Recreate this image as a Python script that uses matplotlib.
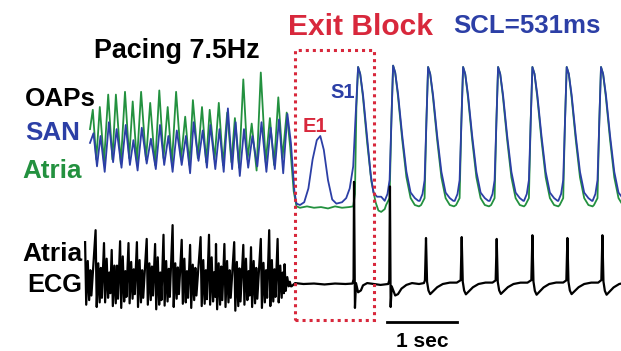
import matplotlib.pyplot as plt
import numpy as np
from matplotlib.patches import Rectangle

plt.rcParams['font.family'] = ['Liberation Sans', 'DejaVu Sans']

GREEN = '#23913f'
BLUE = '#2c3fa6'
RED = '#d8283c'

# ---------------- optical APs (time in s, amplitude normalised) ----------------
# pacing at 7.5 Hz: peaks and troughs of the atrial (green) trace
atria_pk_t = [0.04, 0.14, 0.26, 0.37, 0.50, 0.61, 0.73, 0.86, 0.99, 1.11, 1.23, 1.36,
              1.47, 1.60, 1.71, 1.84, 1.96, 2.07, 2.19, 2.31, 2.44, 2.57, 2.69, 2.81]
atria_pk_v = [0.69, 0.71, 0.80, 0.80, 0.82, 0.75, 0.82, 0.74, 0.83, 0.71, 0.82, 0.64,
              0.76, 0.71, 0.69, 0.74, 0.67, 0.63, 0.91, 0.59, 0.96, 0.63, 0.78, 0.67]
atria_tr_t = [0.00, 0.09, 0.20, 0.32, 0.44, 0.56, 0.67, 0.80, 0.93, 1.05, 1.17, 1.30,
              1.42, 1.54, 1.66, 1.78, 1.90, 2.02, 2.13, 2.25, 2.38, 2.51, 2.63, 2.75]
atria_tr_v = [0.55, 0.33, 0.31, 0.33, 0.30, 0.34, 0.31, 0.33, 0.29, 0.34, 0.30, 0.33,
              0.29, 0.34, 0.31, 0.33, 0.29, 0.31, 0.27, 0.33, 0.25, 0.31, 0.29, 0.34]

# pacing: SAN (blue) trace
san_pk_t = [0.05, 0.15, 0.27, 0.38, 0.51, 0.62, 0.74, 0.87, 1.00, 1.12, 1.24, 1.37,
            1.48, 1.61, 1.72, 1.85, 1.97, 2.08, 2.20, 2.32, 2.45, 2.58, 2.70, 2.82]
san_pk_v = [0.52, 0.50, 0.60, 0.55, 0.58, 0.47, 0.56, 0.48, 0.58, 0.50, 0.54, 0.50,
            0.60, 0.54, 0.58, 0.55, 0.70, 0.60, 0.55, 0.50, 0.60, 0.56, 0.62, 0.66]
san_tr_t = [0.00, 0.10, 0.21, 0.33, 0.45, 0.57, 0.68, 0.81, 0.94, 1.06, 1.18, 1.31,
            1.43, 1.55, 1.67, 1.79, 1.91, 2.03, 2.14, 2.26, 2.39, 2.52, 2.64, 2.76]
san_tr_v = [0.45, 0.28, 0.24, 0.31, 0.27, 0.29, 0.25, 0.30, 0.26, 0.29, 0.24, 0.29,
            0.23, 0.32, 0.27, 0.26, 0.24, 0.26, 0.21, 0.27, 0.28, 0.24, 0.26, 0.23]

# exit block: drop, E1 (SAN only) and S1
atria_blk_t = [2.86, 2.91, 2.95, 3.00, 3.10, 3.20, 3.30, 3.40, 3.50, 3.60, 3.70, 3.76,
               3.785, 3.805, 3.83, 3.86, 3.90, 3.96, 4.02, 4.08, 4.12, 4.16, 4.21]
atria_blk_v = [0.42, 0.10, -0.01, -0.02, -0.01, -0.02, -0.015, -0.025, -0.01, -0.02, -0.015, -0.01,
               0.08, 0.70, 1.00, 0.95, 0.78, 0.45, 0.17, 0.02, -0.04, -0.05, -0.03]
san_blk_t = [2.87, 2.92, 2.95, 3.00, 3.06, 3.12, 3.18, 3.24, 3.29, 3.34, 3.40, 3.46, 3.52,
             3.60, 3.66, 3.71, 3.76, 3.79, 3.83, 3.86, 3.90, 3.96, 4.01, 4.05, 4.10, 4.16]
san_blk_v = [0.45, 0.10, 0.01, 0.00, 0.02, 0.12, 0.33, 0.47, 0.50, 0.40, 0.18, 0.04, 0.01,
             0.02, 0.05, 0.12, 0.28, 0.60, 1.00, 0.95, 0.80, 0.48, 0.22, 0.09, 0.06, 0.06]

# sinus rhythm after S1 (SCL = 531 ms): one digitised beat per channel
beat_t = [4.33, 4.83, 5.33, 5.83, 6.32, 6.81, 7.30]
beat_amp = [1.01, 1.00, 1.00, 1.00, 1.00, 1.00, 1.00]
atria_ap_dt = [-0.10, -0.05, -0.025, 0.0, 0.03, 0.07, 0.13, 0.19, 0.25, 0.31, 0.37]
atria_ap_v = [0.00, 0.05, 0.60, 1.00, 0.95, 0.78, 0.47, 0.20, 0.05, 0.00, -0.01]
san_ap_dt = [-0.12, -0.08, -0.05, -0.025, 0.0, 0.03, 0.07, 0.13, 0.19, 0.25, 0.31, 0.36]
san_ap_v = [0.03, 0.08, 0.18, 0.60, 1.00, 0.95, 0.80, 0.50, 0.24, 0.09, 0.05, 0.03]

# ---------------- atrial ECG ----------------
# pacing: per-cycle spike top / bottom and the following deflections
ecg_sp_t = [-0.07, 0.08, 0.20, 0.31, 0.43, 0.55, 0.67, 0.81, 0.93, 1.05, 1.18, 1.31,
            1.43, 1.58, 1.70, 1.80, 1.92, 2.06, 2.19, 2.30, 2.44, 2.56, 2.68, 2.78]
ecg_sp_top = [0.91, 1.17, 0.89, 0.74, 0.93, 0.89, 0.91, 0.98, 0.87, 1.07, 1.28, 0.96,
              0.85, 1.02, 1.07, 0.87, 0.87, 0.91, 0.85, 0.80, 0.98, 1.17, 0.98, 0.43]
ecg_sp_bot = [-0.45, -0.50, -0.40, -0.48, -0.52, -0.42, -0.50, -0.45, -0.55, -0.47, -0.50, -0.43,
              -0.52, -0.48, -0.45, -0.55, -0.50, -0.58, -0.45, -0.50, -0.52, -0.48, -0.40, -0.15]
ecg_hi1 = [0.50, 0.45, 0.55, 0.40, 0.60, 0.48, 0.52, 0.45, 0.58, 0.50, 0.45, 0.55,
           0.42, 0.52, 0.58, 0.45, 0.50, 0.48, 0.55, 0.50, 0.46, 0.52, 0.40, 0.15]
ecg_lo1 = [-0.35, -0.40, -0.30, -0.42, -0.38, -0.32, -0.40, -0.35, -0.45, -0.38, -0.32, -0.40,
           -0.35, -0.43, -0.38, -0.45, -0.40, -0.48, -0.35, -0.42, -0.40, -0.38, -0.30, -0.05]
ecg_hi2 = [0.30, 0.35, 0.25, 0.40, 0.28, 0.32, 0.30, 0.38, 0.25, 0.33, 0.36, 0.28,
           0.35, 0.30, 0.26, 0.38, 0.30, 0.34, 0.28, 0.35, 0.30, 0.32, 0.25, 0.05]
ecg_lo2 = [-0.25, -0.30, -0.20, -0.32, -0.28, -0.22, -0.30, -0.25, -0.35, -0.28, -0.22, -0.30,
           -0.25, -0.33, -0.28, -0.35, -0.30, -0.38, -0.25, -0.32, -0.30, -0.28, -0.20, -0.05]

# block period with the two large complexes
ecg_blk_t = [2.88, 2.93, 3.05, 3.20, 3.35, 3.50, 3.65, 3.75, 3.765, 3.772, 3.785, 3.80, 3.83,
             3.87, 3.90, 3.96, 4.05, 4.15, 4.26, 4.275, 4.285, 4.295, 4.31, 4.36, 4.40, 4.45,
             4.52, 4.60, 4.70, 4.77]
ecg_blk_v = [-0.05, 0.02, 0.0, 0.01, -0.01, 0.01, 0.0, 0.01, 0.10, 2.22, -0.52, 0.02, -0.18,
             -0.14, -0.03, 0.02, 0.0, -0.02, 0.0, 0.08, 2.12, -0.50, -0.05, -0.25, -0.22, -0.10,
             -0.02, 0.02, 0.0, 0.02]

# sinus complexes
qrs_t = [4.80, 5.31, 5.81, 6.32, 6.82, 7.32]
qrs_amp = [1.00, 1.02, 0.98, 1.06, 1.00, 1.06]
qrs_dt = [-0.015, 0.0, 0.015, 0.035, 0.06, 0.10, 0.16, 0.24, 0.34, 0.44]
qrs_v = [0.08, 1.0, 0.05, -0.14, -0.22, -0.16, -0.07, 0.0, 0.03, 0.03]


def join(*parts):
    t = np.concatenate([np.asarray(p[0], float) for p in parts])
    v = np.concatenate([np.asarray(p[1], float) for p in parts])
    o = np.argsort(t, kind='stable')
    return t[o], v[o]


def beats(times, amps, dt, v):
    tt = np.concatenate([tp + np.asarray(dt) for tp in times])
    vv = np.concatenate([a * np.asarray(v) for a in amps])
    return tt, vv


atria = join((atria_pk_t, atria_pk_v), (atria_tr_t, atria_tr_v), (atria_blk_t, atria_blk_v),
             beats(beat_t, beat_amp, atria_ap_dt, atria_ap_v))
san = join((san_pk_t, san_pk_v), (san_tr_t, san_tr_v), (san_blk_t, san_blk_v),
           beats(beat_t, beat_amp, san_ap_dt, san_ap_v))

cyc_dt = [0.0, 0.016, 0.038, 0.058, 0.075, 0.09]
pace_t = np.concatenate([ts + np.asarray(cyc_dt) for ts in ecg_sp_t])
pace_v = np.column_stack([ecg_sp_top, ecg_sp_bot, ecg_hi1, ecg_lo1, ecg_hi2, ecg_lo2]).ravel()
ecg = join((pace_t, pace_v), (ecg_blk_t, ecg_blk_v), beats(qrs_t, qrs_amp, qrs_dt, qrs_v))

# ---------------- figure ----------------
W, H = 621, 351
fig = plt.figure(figsize=(W / 100, H / 100), dpi=100)
fig.patch.set_facecolor('white')

xlim = (-90 / 70, (W - 90) / 70)

ax_oap = fig.add_axes([0, (H - 230) / H, 1, 190 / H])
ax_oap.set_xlim(xlim)
ax_oap.set_ylim(-25 / 138, 165 / 138)
ax_oap.plot(atria[0], atria[1], color=GREEN, lw=1.3)
ax_oap.plot(san[0], san[1], color=BLUE, lw=1.3)
ax_oap.axis('off')

ax_ecg = fig.add_axes([0, (H - 345) / H, 1, 170 / H])
ax_ecg.set_xlim(xlim)
ax_ecg.set_ylim(-61 / 46, 109 / 46)
ax_ecg.plot(ecg[0], ecg[1], color='black', lw=1.6)
ax_ecg.axis('off')

# scale bar
ax_ecg.plot([4.24, 5.24], [-0.83, -0.83], color='black', lw=2, clip_on=False)
ax_ecg.text(4.74, -1.37, '1 sec', ha='center', va='baseline', fontsize=15,
            fontweight='bold')

# exit block box
fig.add_artist(Rectangle((295 / W, (H - 320) / H), 79 / W, 270 / H, transform=fig.transFigure,
                         fill=False, edgecolor=RED, lw=2.2, linestyle=(0, (1, 1.3))))


def label(x, y, s, size, color='black'):
    fig.text(x / W, 1 - y / H, s, ha='left', va='baseline', fontsize=size,
             fontweight='bold', color=color)


label(288, 35, 'Exit Block', 21.6, RED)
label(453, 33, 'SCL=531ms', 18.6, BLUE)
label(94, 58, 'Pacing 7.5Hz', 19.4)
label(25, 106, 'OAPs', 18.7)
label(25, 140, 'SAN', 18.7, BLUE)
label(22, 178, 'Atria', 18.7, GREEN)
label(330, 98, 'S1', 14.5, BLUE)
label(303, 132, 'E1', 14.5, RED)
label(22, 261, 'Atria', 19)
label(27, 292, 'ECG', 18.3)

fig.savefig('out.png', dpi=100)
